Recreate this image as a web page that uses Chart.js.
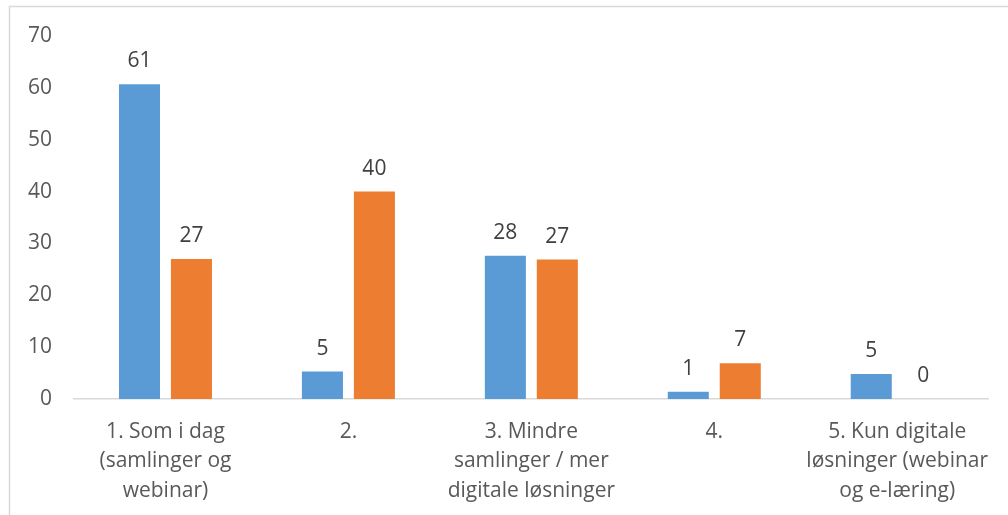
<!DOCTYPE html>
<html>
<head>
<meta charset="utf-8">
<script src="https://cdn.jsdelivr.net/npm/chart.js@4/dist/chart.umd.min.js"></script>
<style>
  html, body { margin: 0; padding: 0; background: #ffffff; }
  #wrap { width: 1008px; height: 515px; position: relative; }
</style>
</head>
<body>
<div id="wrap"><canvas id="c" width="1008" height="515"></canvas></div>
<script>
// ---- data ----
const categories = [
  ["1. Som i dag", "(samlinger og", "webinar)"],
  ["2."],
  ["3. Mindre", "samlinger / mer", "digitale løsninger"],
  ["4."],
  ["5. Kun digitale", "løsninger (webinar", "og e-læring)"]
];
const seriesBlue = [60.7, 5.3, 27.6, 1.4, 4.8];
const seriesOrange = [27.0, 40.0, 26.9, 6.9, 0.0];
const yTicks = [0, 10, 20, 30, 40, 50, 60, 70];

const FONT = "'Open Sans', sans-serif";

const borderPlugin = {
  id: 'frame',
  beforeDraw(chart) {
    const ctx = chart.ctx;
    ctx.save();
    ctx.fillStyle = '#ffffff';
    ctx.fillRect(0, 0, chart.width, chart.height);
    ctx.strokeStyle = '#d9d9d9';
    ctx.lineWidth = 1.5;
    ctx.beginPath();
    ctx.moveTo(9.5, chart.height + 2);
    ctx.lineTo(9.5, 6.5);
    ctx.lineTo(chart.width + 2, 6.5);
    ctx.stroke();
    ctx.restore();
  }
};

const labelPlugin = {
  id: 'valueLabels',
  afterDatasetsDraw(chart) {
    const ctx = chart.ctx;
    ctx.save();
    ctx.font = '21px ' + FONT;
    ctx.fillStyle = '#404040';
    ctx.textAlign = 'center';
    ctx.textBaseline = 'alphabetic';
    chart.data.datasets.forEach((ds, di) => {
      const meta = chart.getDatasetMeta(di);
      meta.data.forEach((bar, i) => {
        const v = ds.data[i];
        ctx.fillText(String(Math.round(v)), bar.x, bar.y - 17);
      });
    });
    ctx.restore();
  }
};

new Chart(document.getElementById('c'), {
  type: 'bar',
  data: {
    labels: categories,
    datasets: [
      { label: 'A', data: seriesBlue, backgroundColor: '#5B9BD5', categoryPercentage: 0.568, barPercentage: 0.79 },
      { label: 'B', data: seriesOrange, backgroundColor: '#ED7D31', categoryPercentage: 0.568, barPercentage: 0.79 }
    ]
  },
  options: {
    responsive: false,
    animation: false,
    layout: { padding: { top: 36, right: 19, left: 0, bottom: 0 } },
    plugins: { legend: { display: false }, tooltip: { enabled: false } },
    scales: {
      x: {
        grid: { display: false, drawTicks: false },
        border: { display: true, color: '#d9d9d9', width: 1.5 },
        ticks: {
          color: '#595959',
          font: { family: FONT, size: 21, lineHeight: 1.405 },
          padding: 18,
          maxRotation: 0,
          autoSkip: false
        },
        afterFit(scale) { scale.height = 116; }
      },
      y: {
        min: 0,
        max: 70,
        afterBuildTicks(scale) { scale.ticks = yTicks.map(v => ({ value: v })); },
        grid: { display: false, drawTicks: false },
        border: { display: false },
        ticks: {
          color: '#595959',
          font: { family: FONT, size: 21 },
          padding: 22
        },
        afterFit(scale) { scale.width = 74; }
      }
    }
  },
  plugins: [borderPlugin, labelPlugin]
});
</script>
</body>
</html>
